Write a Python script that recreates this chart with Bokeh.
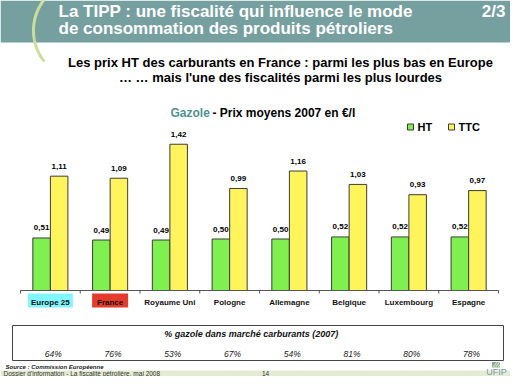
import numpy as np
from bokeh.plotting import figure
from bokeh.models import Range1d
from bokeh.core.properties import value
from bokeh.embed import file_html
from bokeh.resources import INLINE

# ---------------- data ----------------
countries = ["Europe 25", "France", "Royaume Uni", "Pologne", "Allemagne",
             "Belgique", "Luxembourg", "Espagne"]
prix_ht = [0.51, 0.49, 0.49, 0.50, 0.50, 0.52, 0.52, 0.52]
prix_ttc = [1.11, 1.09, 1.42, 0.99, 1.16, 1.03, 0.93, 0.97]
part_gazole = [64, 76, 53, 67, 54, 81, 80, 78]
series_names = ["HT", "TTC"]

title_lines = ["La TIPP : une fiscalité qui influence le mode",
               "de consommation des produits pétroliers"]
subtitle_lines = ["Les prix HT des carburants en France : parmi les plus bas en Europe",
                  "… … mais l'une des fiscalités parmi les plus lourdes"]

# ---------------- styles / layout ----------------
FONT = value("Liberation Sans")
GREEN = "#80F050"
YELLOW = "#FFF45C"
TEAL = "#76A0A0"
OUTLINE = "#3C3C3C"

W, H = 510, 376          # slide pixels shown in the frame
AXIS_Y = 290             # slide pixel of the zero line
CAT_LEFT = 20            # slide pixel of the first category boundary
CAT_W = 59.75            # slide pixels per category
PX_PER_EUR = 103.0
BAR_W = 0.293
DODGE = 0.147

p = figure(width=W, height=H,
           x_range=Range1d(0, W), y_range=Range1d(H, 0),
           output_backend="svg", toolbar_location=None, tools="",
           x_axis_location=None, y_axis_location=None, min_border=0)
p.grid.visible = False
p.outline_line_color = None
p.background_fill_color = "white"
p.border_fill_color = "white"

p.extra_x_ranges = {"cat": Range1d((0 - CAT_LEFT) / CAT_W, (W - CAT_LEFT) / CAT_W)}
p.extra_y_ranges = {"val": Range1d((AXIS_Y - H) / PX_PER_EUR, AXIS_Y / PX_PER_EUR)}

n = len(countries)
centers = np.arange(n) + 0.5

# ---------------- header ----------------
p.quad(left=0, right=W, top=0, bottom=42, fill_color=TEAL, line_color=None)
theta = np.linspace(np.arcsin(-32 / 50), np.arcsin(31 / 50), 60)
p.line(x=83 - 50 * np.cos(theta), y=30 + 50 * np.sin(theta),
       line_color="#CBDD9A", line_width=3)
p.text(x=[58, 58], y=[11, 28], text=title_lines, text_font=FONT,
       text_font_size="17px", text_font_style="bold", text_color="white",
       text_align="left", text_baseline="middle")
p.text(x=[505], y=[11], text=["2/3"], text_font=FONT, text_font_size="17px",
       text_font_style="bold", text_color="white", text_align="right",
       text_baseline="middle")

p.text(x=[280, 280], y=[61.5, 76.5], text=subtitle_lines, text_font=FONT,
       text_font_size="13px", text_font_style="bold", text_color="black",
       text_align="center", text_baseline="middle")

# chart title
p.text(x=[170], y=[112], text=["Gazole"], text_font=FONT, text_font_size="12px",
       text_font_style="bold", text_color="#4E9292", text_align="left",
       text_baseline="middle")
p.text(x=[212], y=[112], text=["- Prix moyens 2007 en €/l"], text_font=FONT,
       text_font_size="12px", text_font_style="bold", text_color="black",
       text_align="left", text_baseline="middle")

# legend
p.rect(x=[410, 451], y=[126.5, 126.5], width=6, height=6, width_units="screen",
       height_units="screen", fill_color=[GREEN, YELLOW], line_color=OUTLINE,
       line_width=1)
p.text(x=[417, 458], y=[126.5, 126.5], text=series_names, text_font=FONT,
       text_font_size="11px", text_font_style="bold", text_color="black",
       text_align="left", text_baseline="middle")

# ---------------- bars ----------------
for vals, col, off in ((prix_ht, GREEN, -DODGE), (prix_ttc, YELLOW, DODGE)):
    p.vbar(x=centers + off, top=vals, bottom=0, width=BAR_W,
           x_range_name="cat", y_range_name="val",
           fill_color=col, line_color=OUTLINE, line_width=1)
    p.text(x=centers + off, y=vals,
           text=[f"{v:.2f}".replace(".", ",") for v in vals],
           x_range_name="cat", y_range_name="val", y_offset=-10,
           text_font=FONT, text_font_size="8px", text_font_style="bold",
           text_color="black", text_align="center", text_baseline="middle")

# category axis
bounds = np.arange(n + 1)
p.segment(x0=[bounds[0]], x1=[bounds[-1]], y0=[AXIS_Y], y1=[AXIS_Y],
          x_range_name="cat", line_color="#555555", line_width=1)
p.segment(x0=bounds, x1=bounds, y0=AXIS_Y, y1=AXIS_Y + 3,
          x_range_name="cat", line_color="#555555", line_width=1)

# highlighted category labels
p.rect(x=centers[:2], y=[300, 300], width=[45, 36], height=14,
       width_units="screen", height_units="screen", x_range_name="cat",
       fill_color=["#80F6FF", "#E53B2C"], line_color=None)
p.text(x=centers, y=[301.5] * n, text=countries, x_range_name="cat",
       text_font=FONT, text_font_size="8px", text_font_style="bold",
       text_color="#111111", text_align="center", text_baseline="middle")

# ---------------- share table ----------------
p.quad(left=12, right=503, top=325, bottom=360, fill_color="white",
       line_color="#444444", line_width=1)
p.text(x=[252], y=[333.5], text=["% gazole dans  marché carburants (2007)"],
       text_font=FONT, text_font_size="9px", text_font_style="bold italic",
       text_color="#111111", text_align="center", text_baseline="middle")
p.text(x=centers, y=[353] * n, text=[f"{v}%" for v in part_gazole],
       x_range_name="cat", x_offset=3, text_font=FONT, text_font_size="8.5px",
       text_font_style="italic", text_color="#222222", text_align="center",
       text_baseline="middle")

# ---------------- footer ----------------
p.text(x=[5], y=[366], text=["Source : Commission Européenne"], text_font=FONT,
       text_font_size="6px", text_font_style="bold italic", text_color="#222222",
       text_align="left", text_baseline="middle")
p.quad(left=0, right=W, top=370, bottom=H, fill_color="#E3ECD2",
       line_color=None)
p.text(x=[3], y=[373], text=["Dossier d'information - La  fiscalité pétrolière,  mai 2008"],
       text_font=FONT, text_font_size="6.5px", text_color="#333333",
       text_align="left", text_baseline="middle")
p.text(x=[265], y=[373], text=["14"], text_font=FONT, text_font_size="6.5px",
       text_color="#333333", text_align="center", text_baseline="middle")

# UFIP logo
LX0, LX1, LY0, LY1 = 491.5, 499.5, 361.5, 367
p.quad(left=LX0, right=LX1, top=LY0, bottom=LY1, fill_color="#86A9AE",
       line_color=None)
for k in (1, 3.5, 6):
    x_end = min(LX1, LX0 + k + 4)
    p.segment(x0=[LX0 + k], y0=[LY1], x1=[x_end],
              y1=[LY1 - (x_end - (LX0 + k)) * (LY1 - LY0) / 4],
              line_color="#D6E6A6", line_width=1.2)
p.text(x=[496], y=[371], text=["UFIP"], text_font=FONT, text_font_size="9px",
       text_color="#7D97AA", text_align="center", text_baseline="middle")

open("out.html", "w").write(file_html(p, INLINE))
